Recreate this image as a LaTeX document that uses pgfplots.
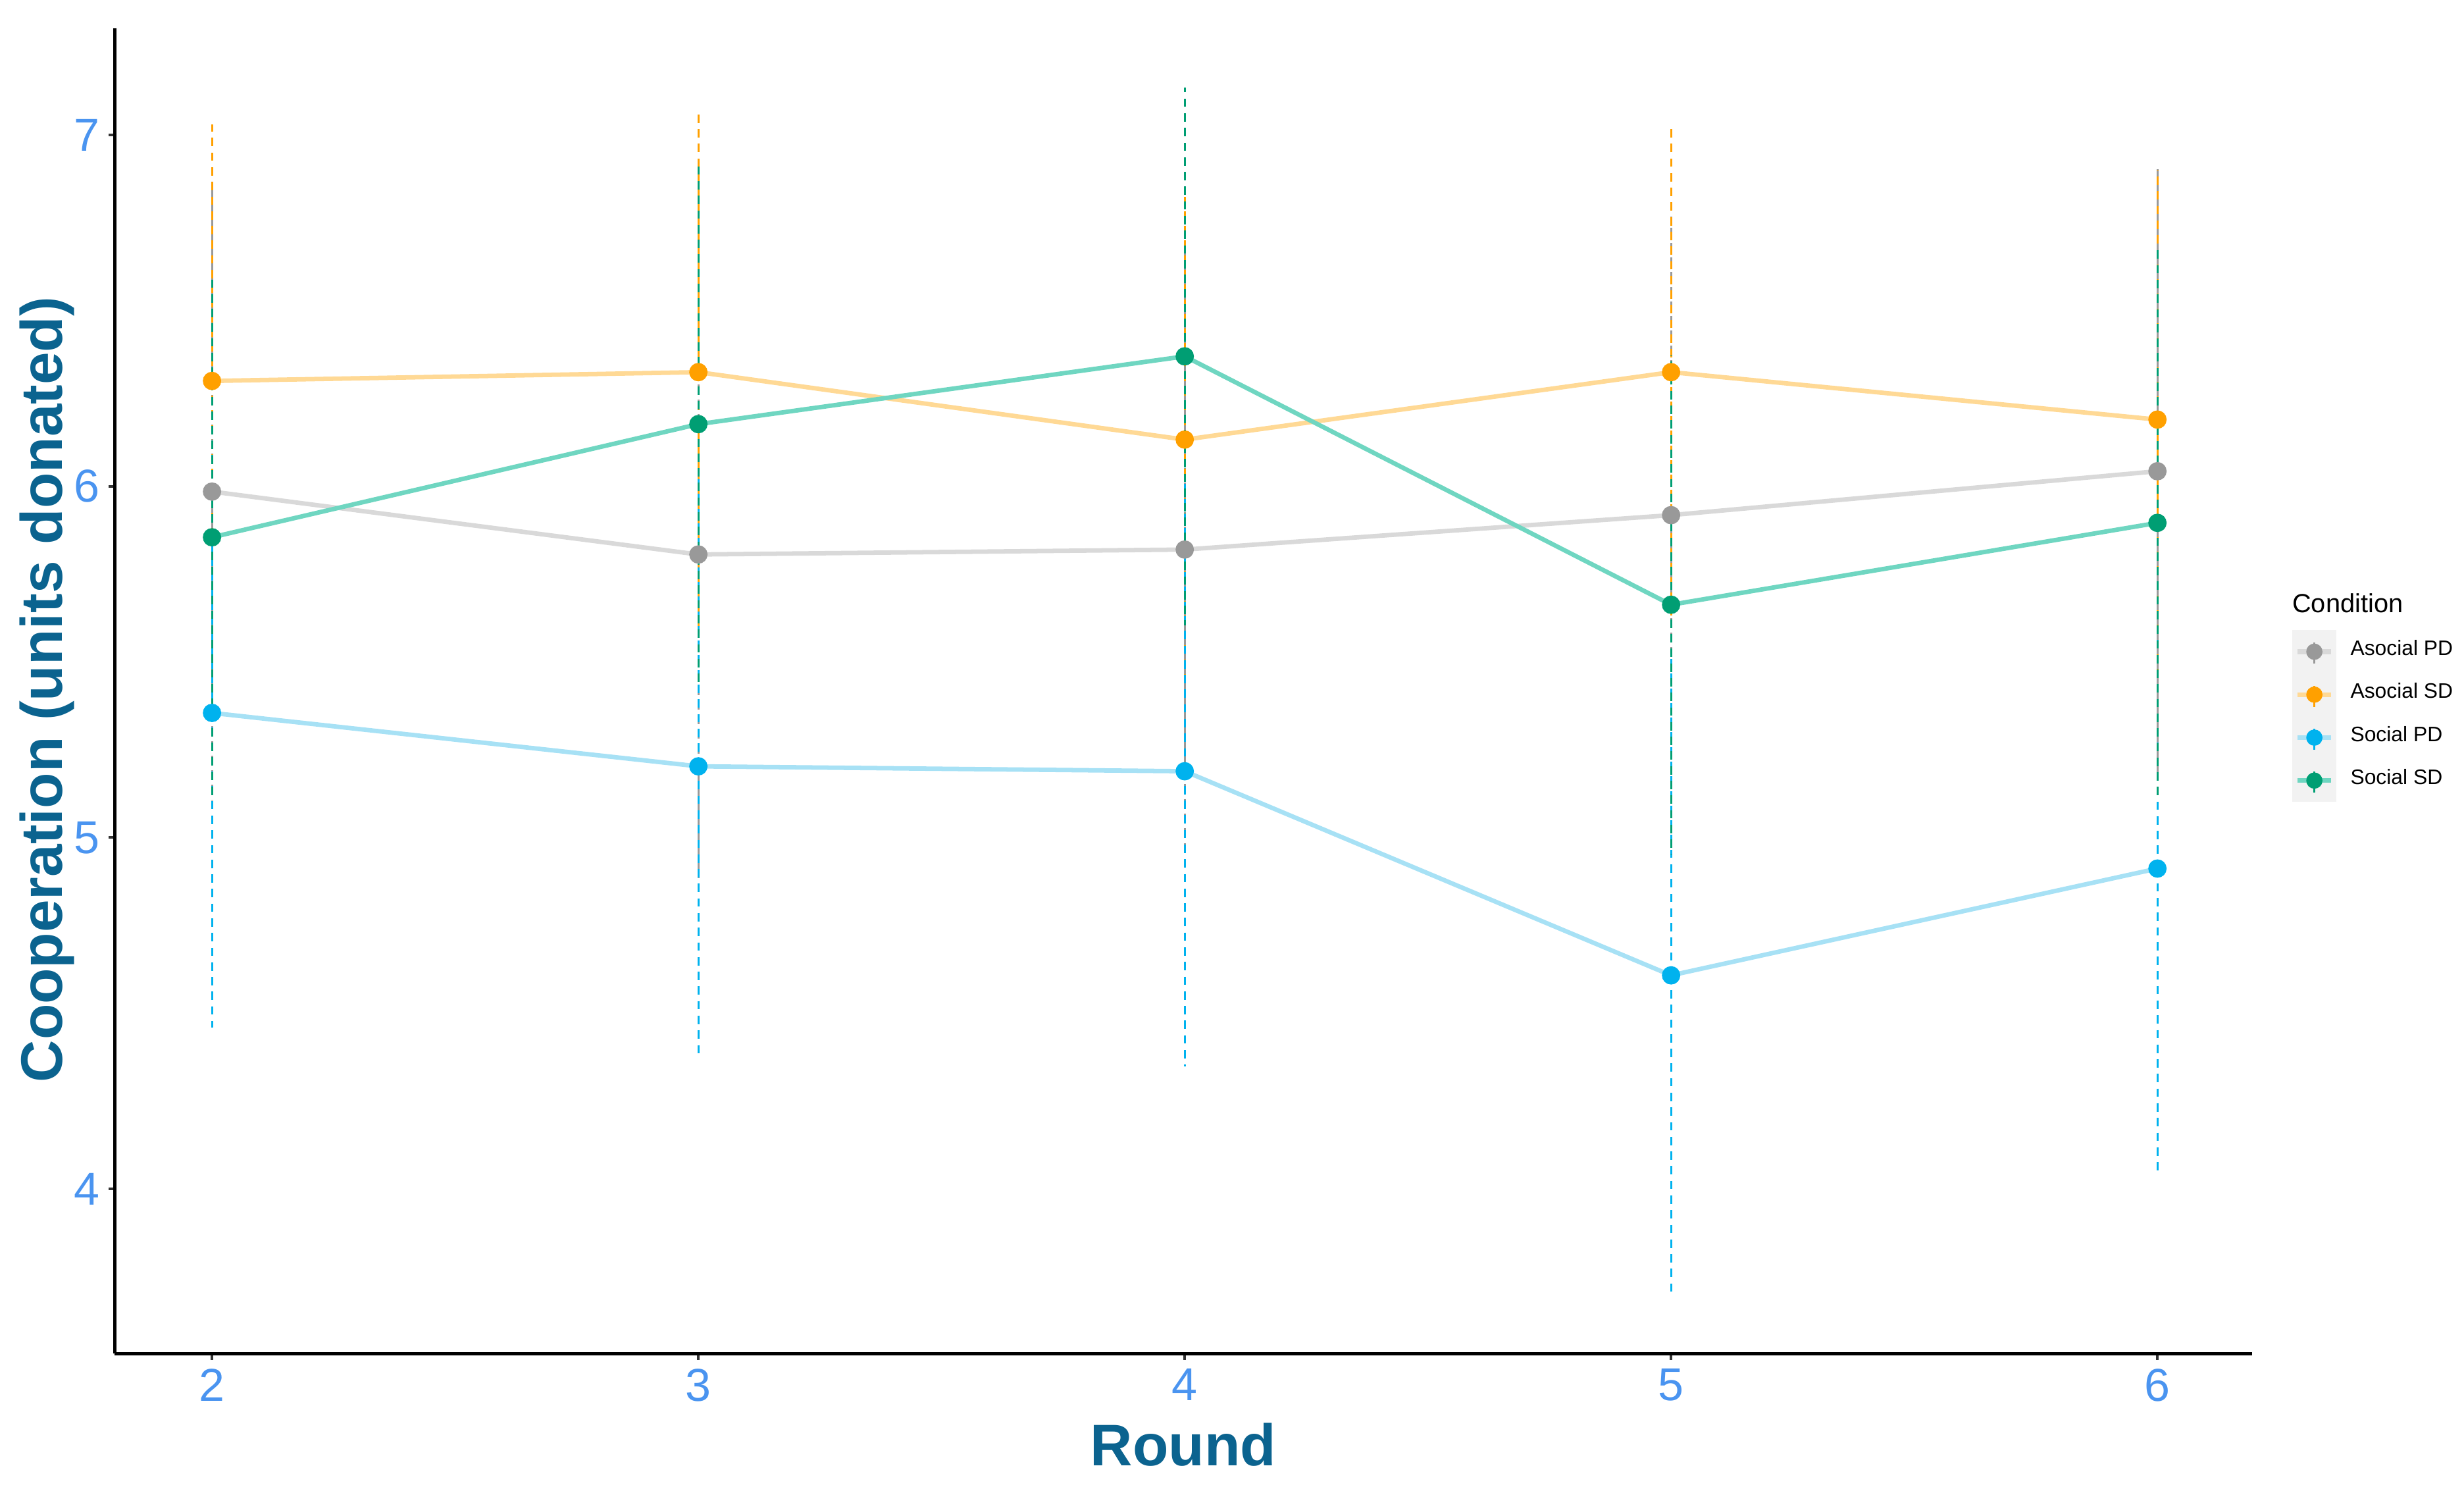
\documentclass[border=0pt]{standalone}
\usepackage{fontspec}
\setmainfont{Liberation Sans}
\usepackage{pgfplots}
\pgfplotsset{compat=1.18}
\usepackage{pgfplotstable}

\definecolor{tickblue}{HTML}{4A94F0}
\definecolor{titleblue}{HTML}{0B638F}
\definecolor{grayM}{HTML}{999999}
\definecolor{grayL}{HTML}{D9D9D9}
\definecolor{orangeM}{HTML}{FFA000}
\definecolor{orangeL}{HTML}{FFD995}
\definecolor{blueM}{HTML}{00B2EE}
\definecolor{blueL}{HTML}{A7E1F5}
\definecolor{greenM}{HTML}{009E73}
\definecolor{greenL}{HTML}{6FD6C1}
\definecolor{keybg}{HTML}{F2F2F2}

% round, mean, error half-width
\pgfplotstableread{
x y e
2 5.985 0.88
3 5.806 0.92
4 5.820 0.86
5 5.918 0.85
6 6.043 0.87
}\asocialPD
\pgfplotstableread{
x y e
2 6.300 0.73
3 6.325 0.735
4 6.133 0.72
5 6.325 0.70
6 6.190 0.71
}\asocialSD
\pgfplotstableread{
x y e
2 5.355 0.895
3 5.203 0.82
4 5.189 0.84
5 4.608 0.91
6 4.912 0.87
}\socialPD
\pgfplotstableread{
x y e
2 5.855 0.74
3 6.177 0.74
4 6.370 0.765
5 5.663 0.71
6 5.896 0.78
}\socialSD

\pgfplotsset{
  meanline/.style={line width=0.85pt, color=#1, forget plot},
  meanpts/.style={only marks, mark=*, mark size=1.55pt, color=#1, forget plot,
    error bars/.cd, y dir=both, y explicit, error mark=none,
    error bar style={line width=0.35pt, dash pattern=on 1.6pt off 1.2pt, color=#1}},
  keyimg/.style 2 args={legend image code/.code={
    \fill[keybg] (0pt,-3.9pt) rectangle (8pt,3.9pt);
    \draw[#2, line width=0.9pt] (0.8pt,0pt) -- (7.2pt,0pt);
    \draw[#1, line width=0.45pt] (4pt,-2.3pt) -- (4pt,1.7pt);
    \fill[#1] (4pt,0pt) circle (1.35pt);
  }},
}

\begin{document}
\begin{tikzpicture}
\begin{axis}[
  scale only axis,
  width=408pt, height=253pt,
  xmin=1.8, xmax=6.194,
  ymin=3.531, ymax=7.304,
  axis lines*=left,
  axis line style={-, line width=0.6pt, black},
  xtick={2,3,4,5,6},
  ytick={4,5,6,7},
  tick align=outside,
  major tick length=1.2pt,
  tick style={line width=0.5pt, color=black!80},
  /pgf/number format/assume math mode=true,
  ticklabel style={font=\fontsize{8.8}{10}\selectfont, color=tickblue},
  xticklabel style={inner sep=1.5pt},
  yticklabel style={inner sep=1.5pt},
  xlabel={Round},
  ylabel={Cooperation (units donated)},
  label style={font=\bfseries\fontsize{11.2}{13}\selectfont, color=titleblue},
  xlabel style={at={(axis description cs:0.5,-0.0687)}, anchor=center},
  ylabel style={at={(axis description cs:-0.0316,0.501)}, anchor=center},
  clip=false,
  legend cell align=left,
  legend style={
    at={(axis description cs:1.0185,0.481)}, anchor=west,
    draw=none, fill=none, inner sep=0pt, row sep=0pt,
    font=\fontsize{4}{5}\selectfont,
    nodes={inner sep=0pt},
    /tikz/every odd column/.append style={column sep=2.7pt},
  },
]
% connecting lines
\addplot[meanline=grayL] table[x=x, y=y] {\asocialPD};
\addplot[meanline=orangeL] table[x=x, y=y] {\asocialSD};
\addplot[meanline=blueL] table[x=x, y=y] {\socialPD};
\addplot[meanline=greenL] table[x=x, y=y] {\socialSD};
% points with dashed error bars
\addplot[meanpts=grayM] table[x=x, y=y, y error=e] {\asocialPD};
\addplot[meanpts=orangeM] table[x=x, y=y, y error=e] {\asocialSD};
\addplot[meanpts=blueM] table[x=x, y=y, y error=e] {\socialPD};
\addplot[meanpts=greenM] table[x=x, y=y, y error=e] {\socialSD};

\addlegendimage{keyimg={grayM}{grayL}}
\addlegendentry{Asocial PD}
\addlegendimage{keyimg={orangeM}{orangeL}}
\addlegendentry{Asocial SD}
\addlegendimage{keyimg={blueM}{blueL}}
\addlegendentry{Social PD}
\addlegendimage{keyimg={greenM}{greenL}}
\addlegendentry{Social SD}

\node[anchor=west, inner sep=0pt, font=\fontsize{5}{6}\selectfont]
  at (axis description cs:1.0185,0.566) {Condition};
% page margins as in the reference
\path (axis description cs:-0.0537,1.0213) (axis description cs:1.0993,-0.1031);
\end{axis}
\end{tikzpicture}
\end{document}
